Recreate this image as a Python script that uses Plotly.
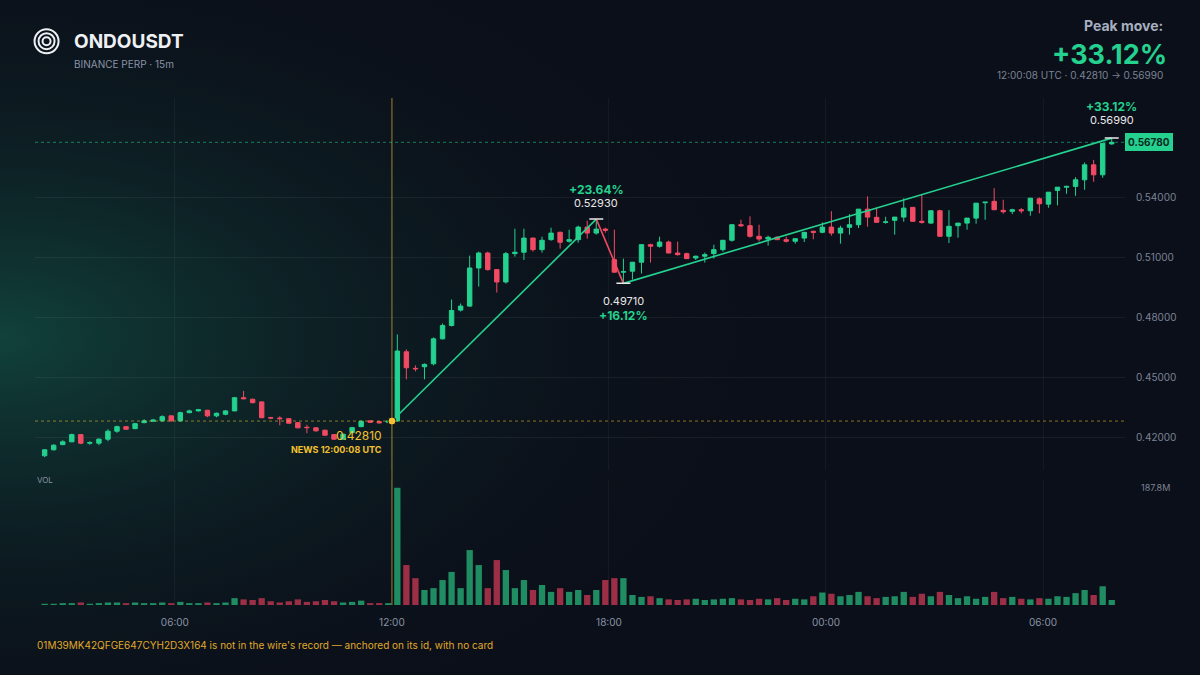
import base64
import pandas as pd
import plotly.graph_objects as go

# 15m candles, first bar at 02:15
start = "2025-03-10 02:15"
opens = [
    .4107, .4137, .4163, .4177, .4213, .4170, .4170, .4190, .4230, .4253,
    .4243, .4273, .4280, .4282, .4307, .4282, .4323, .4332, .4335, .4307,
    .4315, .4332, .4398, .4390, .4377, .4298, .4296, .4293, .4273, .4250,
    .4247, .4235, .4213, .4190, .4223, .4253, .4282, .4278, .4275,
    .4281, .4628, .4545, .4553, .4568, .4693, .4760, .4837, .4857, .5048,
    .5123, .5040, .4978, .5120, .5127, .5198, .5140, .5190, .5227, .5182,
    .5190, .5253, .5223, .5243, .5090, .5027, .5032, .5077, .5165, .5157,
    .5178, .5123, .5120, .5098, .5107, .5120, .5140, .5187, .5265, .5260,
    .5207, .5193, .5202, .5190, .5182, .5198, .5232, .5227, .5253, .5223,
    .5252, .5265, .5343, .5302, .5277, .5287, .5303, .5352, .5282, .5273,
    .5335, .5207, .5260, .5273, .5298, .5375, .5382, .5337, .5332, .5340,
    .5335, .5395, .5368, .5437, .5453, .5457, .5490, .5565, .5515, .5670,
]
closes = [
    .4137, .4160, .4177, .4213, .4170, .4173, .4190, .4230, .4253, .4240,
    .4268, .4282, .4286, .4303, .4282, .4323, .4332, .4338, .4307, .4320,
    .4332, .4398, .4393, .4373, .4298, .4296, .4293, .4270, .4247, .4248,
    .4232, .4210, .4190, .4215, .4248, .4280, .4275, .4272, .4281,
    .4632, .4548, .4543, .4565, .4693, .4760, .4835, .4857, .5048, .5123,
    .5040, .4978, .5120, .5127, .5198, .5140, .5187, .5223, .5177, .5190,
    .5253, .5223, .5243, .5237, .5027, .5030, .5077, .5165, .5157, .5178,
    .5123, .5115, .5095, .5107, .5115, .5140, .5187, .5265, .5260, .5207,
    .5193, .5202, .5190, .5182, .5195, .5227, .5227, .5253, .5223, .5248,
    .5265, .5343, .5303, .5277, .5279, .5303, .5348, .5282, .5277, .5335,
    .5207, .5257, .5273, .5298, .5373, .5378, .5340, .5330, .5340, .5335,
    .5398, .5370, .5428, .5453, .5457, .5490, .5565, .5515, .5673, .5678,
]
highs = [
    .4140, .4165, .4185, .4218, .4215, .4180, .4195, .4240, .4258, .4256,
    .4272, .4290, .4292, .4310, .4310, .4328, .4338, .4342, .4337, .4324,
    .4336, .4402, .4432, .4394, .4380, .4302, .4305, .4296, .4276, .4262,
    .4250, .4238, .4216, .4218, .4252, .4284, .4285, .4282, .4285,
    .4715, .4640, .4560, .4570, .4700, .4770, .4890, .4870, .5110, .5130,
    .5130, .5042, .5128, .5245, .5245, .5200, .5205, .5250, .5230, .5240,
    .5260, .5285, .5293, .5250, .5240, .5095, .5070, .5083, .5170, .5205,
    .5185, .5180, .5125, .5110, .5125, .5165, .5145, .5190, .5290, .5307,
    .5265, .5210, .5207, .5205, .5195, .5200, .5235, .5277, .5333, .5260,
    .5318, .5272, .5407, .5350, .5305, .5298, .5397, .5353, .5415, .5285,
    .5340, .5338, .5262, .5292, .5300, .5378, .5448, .5390, .5345, .5348,
    .5345, .5402, .5400, .5432, .5460, .5503, .5577, .5590, .5580, .5699,
]
lows = [
    .4100, .4133, .4160, .4175, .4165, .4162, .4160, .4180, .4222, .4236,
    .4240, .4270, .4277, .4278, .4278, .4278, .4320, .4328, .4300, .4300,
    .4310, .4330, .4390, .4370, .4295, .4292, .4260, .4268, .4245, .4220,
    .4228, .4207, .4188, .4186, .4220, .4250, .4272, .4268, .4270,
    .4280, .4490, .4530, .4490, .4560, .4690, .4755, .4830, .4853, .4955,
    .5035, .4925, .4970, .5105, .5088, .5130, .5125, .5185, .5145, .5175,
    .5175, .5195, .5215, .5225, .5075, .4971, .4990, .5020, .5075, .5150,
    .5150, .5110, .5105, .5088, .5075, .5095, .5130, .5180, .5255, .5200,
    .5180, .5160, .5190, .5176, .5170, .5178, .5192, .5222, .5210, .5170,
    .5215, .5248, .5255, .5290, .5270, .5215, .5280, .5285, .5270, .5270,
    .5268, .5173, .5200, .5240, .5270, .5290, .5370, .5320, .5318, .5322,
    .5310, .5322, .5350, .5362, .5420, .5410, .5440, .5480, .5500, .5665,
]
volumes = [
    2, 2, 3, 3, 4, 2, 3, 4, 4, 3,
    4, 3, 3, 4, 3, 5, 3, 3, 4, 3,
    4, 11, 9, 8, 11, 6, 4, 6, 9, 5,
    6, 8, 6, 4, 5, 7, 3, 3, 3,
    187.8, 64, 43, 24, 27, 40, 53, 27, 88, 64,
    27, 72, 56, 27, 40, 24, 32, 21, 27, 21,
    24, 16, 24, 40, 43, 43, 16, 13, 14, 11,
    9, 8, 9, 10, 8, 9, 10, 11, 9, 8,
    10, 9, 11, 8, 10, 9, 14, 20, 18, 14,
    16, 21, 14, 11, 13, 14, 21, 13, 18, 14,
    21, 16, 11, 14, 10, 13, 21, 11, 13, 10,
    9, 11, 10, 14, 13, 19, 24, 16, 30, 8,
]

# swing points of the move
swing_idx = [39, 61, 64, 118]
swing_px = [0.42810, 0.52930, 0.49710, 0.56990]
swing_pct = ["", "+23.64%", "+16.12%", "+33.12%"]
last_price = 0.56780
news_price = 0.42810
price_ticks = [0.42, 0.45, 0.48, 0.51, 0.54]

GREEN = "#24d18f"
RED = "#f24a63"
YELLOW = "#f5c12e"

# bars drawn at the middle of their 15m interval
times = pd.date_range(start, periods=len(closes), freq="15min") + pd.Timedelta("9min")
vol_colors = ["#1f8c62" if c >= o else "#9c2f45" for o, c in zip(opens, closes)]
sw_t = [times[i] for i in swing_idx]
sw_t[0] = pd.Timestamp("2025-03-10 12:00:08")
news_t = pd.Timestamp("2025-03-10 12:00:08")

fig = go.Figure()
fig.add_trace(go.Candlestick(
    x=times, open=opens, high=highs, low=lows, close=closes, yaxis="y",
    increasing=dict(line=dict(color=GREEN, width=1), fillcolor=GREEN),
    decreasing=dict(line=dict(color=RED, width=1), fillcolor=RED),
    whiskerwidth=0, showlegend=False, hoverinfo="skip"))
fig.add_trace(go.Bar(x=times, y=volumes, yaxis="y2", marker_color=vol_colors,
                     marker_line_width=0, showlegend=False))

# zigzag legs
fig.add_trace(go.Scatter(x=sw_t[:2], y=swing_px[:2], mode="lines",
                         line=dict(color=GREEN, width=1.6), showlegend=False))
fig.add_trace(go.Scatter(x=sw_t[1:3], y=swing_px[1:3], mode="lines",
                         line=dict(color=RED, width=1.6), showlegend=False))
fig.add_trace(go.Scatter(x=sw_t[2:], y=swing_px[2:], mode="lines",
                         line=dict(color=GREEN, width=1.6), showlegend=False))
fig.add_trace(go.Scatter(x=sw_t[1:], y=swing_px[1:], mode="markers",
                         marker=dict(symbol="line-ew", size=10, line=dict(color="#e8e8e8", width=1.5)),
                         showlegend=False))
fig.add_trace(go.Scatter(x=[news_t], y=[news_price], mode="markers",
                         marker=dict(color=YELLOW, size=8, line=dict(color="#0b0f19", width=1)),
                         showlegend=False))

# background glow
svg = ('<svg xmlns="http://www.w3.org/2000/svg" width="1200" height="675">'
       '<defs><radialGradient id="g" cx="0" cy="0.5" r="0.65">'
       '<stop offset="0" stop-color="#11443d" stop-opacity="0.95"/>'
       '<stop offset="1" stop-color="#0b0f19" stop-opacity="0"/></radialGradient></defs>'
       '<rect width="1200" height="675" fill="#0b0f19"/>'
       '<rect width="1200" height="675" fill="url(#g)"/></svg>')
bg = "data:image/svg+xml;base64," + base64.b64encode(svg.encode()).decode()

shapes = [
    dict(type="line", xref="paper", yref="y", x0=0, x1=1, y0=news_price, y1=news_price,
         line=dict(color="rgba(245,193,46,0.55)", width=1, dash="dot")),
    dict(type="line", xref="paper", yref="y", x0=0, x1=1, y0=last_price, y1=last_price,
         line=dict(color="rgba(36,209,143,0.55)", width=1, dash="dot")),
    dict(type="line", xref="x", yref="paper", x0=news_t, x1=news_t, y0=0, y1=1,
         line=dict(color="rgba(245,193,46,0.6)", width=1)),
]
# logo rings
for r in (12, 8, 4):
    shapes.append(dict(type="circle", xref="paper", yref="paper", xsizemode="pixel", ysizemode="pixel",
                       xanchor=0.0106, yanchor=1.112, x0=-r, x1=r, y0=-r, y1=r,
                       line=dict(color="#eef0f4", width=2)))

ann = [
    dict(x=sw_t[1], y=swing_px[1], text="<b>" + swing_pct[1] + "</b>", yshift=30, font=dict(color=GREEN, size=12)),
    dict(x=sw_t[1], y=swing_px[1], text=f"{swing_px[1]:.5f}", yshift=16, font=dict(color="#e8e8e8", size=11)),
    dict(x=sw_t[2], y=swing_px[2], text=f"{swing_px[2]:.5f}", yshift=-18, font=dict(color="#e8e8e8", size=11)),
    dict(x=sw_t[2], y=swing_px[2], text="<b>" + swing_pct[2] + "</b>", yshift=-32, font=dict(color=GREEN, size=12)),
    dict(x=sw_t[3], y=swing_px[3], text="<b>" + swing_pct[3] + "</b>", yshift=32, font=dict(color=GREEN, size=12)),
    dict(x=sw_t[3], y=swing_px[3], text=f"{swing_px[3]:.5f}", yshift=18, font=dict(color="#e8e8e8", size=11)),
    dict(x=news_t, y=news_price, text=f"{news_price:.5f}", xanchor="right", xshift=-8, yshift=-14,
         font=dict(color=YELLOW, size=12)),
    dict(x=news_t, y=news_price, text="<b>NEWS 12:00:08 UTC</b>", xanchor="right", xshift=-8, yshift=-28,
         font=dict(color=YELLOW, size=9)),
    dict(xref="paper", x=1, y=last_price, text=f"<b>{last_price:.5f}</b>", xanchor="left", xshift=0,
         bgcolor=GREEN, bordercolor=GREEN, borderpad=2, font=dict(color="#0b2a1f", size=10)),
    dict(xref="paper", yref="paper", x=0, y=0.233, text="VOL", xanchor="left", font=dict(color="#8a93a6", size=8)),
    dict(xref="paper", yref="y2", x=1, y=187.8, text="187.8M", xanchor="left", xshift=14,
         font=dict(color="#7b8396", size=9)),
    dict(xref="paper", yref="paper", x=0.034, y=1.138, text="<b>ONDOUSDT</b>", xanchor="left",
         font=dict(color="#eef0f4", size=19)),
    dict(xref="paper", yref="paper", x=0.034, y=1.083, text="BINANCE PERP · 15m", xanchor="left",
         font=dict(color="#8a93a6", size=10)),
    dict(xref="paper", yref="paper", x=1.037, y=1.164, text="<b>Peak move:</b>", xanchor="right",
         font=dict(color="#a7afc0", size=14)),
    dict(xref="paper", yref="paper", x=1.040, y=1.122, text="<b>+33.12%</b>", xanchor="right",
         font=dict(color=GREEN, size=27)),
    dict(xref="paper", yref="paper", x=1.037, y=1.061, text="12:00:08 UTC · 0.42810 → 0.56990", xanchor="right",
         font=dict(color="#7b8396", size=10)),
    dict(xref="paper", yref="paper", x=0, y=-0.094, text="01M39MK42QFGE647CYH2D3X164 is not in the wire's record — anchored on its id, with no card",
         xanchor="left", font=dict(color="#e0a92a", size=10)),
]
for a in ann:
    a.setdefault("xref", "x")
    a.setdefault("yref", "y")
    a["showarrow"] = False

fig.update_layout(
    width=1200, height=675, margin=dict(l=35, r=75, t=98, b=70),
    paper_bgcolor="#0b0f19", plot_bgcolor="rgba(0,0,0,0)",
    font=dict(family="Inter, sans-serif", color="#8a93a6"),
    images=[dict(source=bg, xref="paper", yref="paper", x=-0.0322, y=1.1933, sizex=1.1009, sizey=1.3314,
                 sizing="stretch", layer="below", xanchor="left", yanchor="top")],
    xaxis=dict(type="date", anchor="y2", range=["2025-03-10 02:08", "2025-03-11 08:16"],
               rangeslider=dict(visible=False), showgrid=True, gridcolor="rgba(255,255,255,0.045)",
               tickformat="%H:%M", dtick=6 * 3600 * 1000, tick0="2025-03-10 00:00",
               ticks="outside", ticklen=8, tickcolor="rgba(0,0,0,0)",
               tickfont=dict(size=10, color="#8a93a6"), zeroline=False, showline=False),
    yaxis=dict(domain=[0.266, 1], range=[0.4035, 0.59], side="right", tickvals=price_ticks,
               tickformat=".5f", gridcolor="rgba(255,255,255,0.06)", zeroline=False,
               tickfont=dict(size=10, color="#7b8396"), ticklabelstandoff=10),
    yaxis2=dict(domain=[0, 0.247], range=[0, 200.6], showticklabels=False, showgrid=False, zeroline=False),
    bargap=0.3, annotations=ann, shapes=shapes,
)
fig.write_html("out.html", config={"displayModeBar": False},
               post_script="document.body.style.margin='0';document.body.style.background='#0b0f19';")
